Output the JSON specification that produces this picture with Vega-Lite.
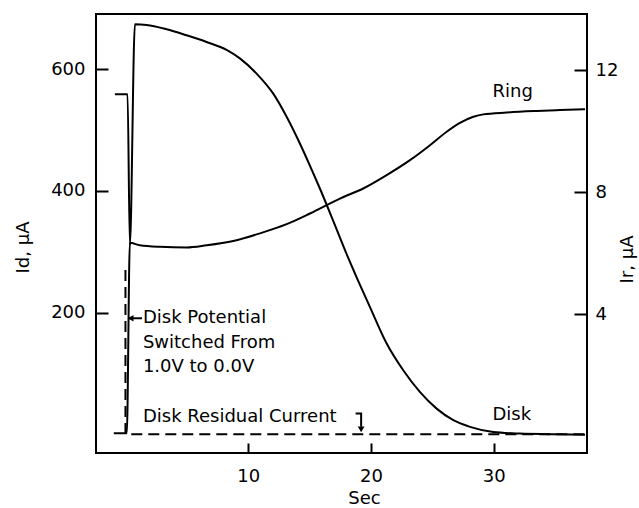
{
  "$schema": "https://vega.github.io/schema/vega-lite/v6.json",
  "width": 491,
  "height": 439,
  "autosize": "none",
  "padding": {"left": 96, "top": 14, "right": 52, "bottom": 55},
  "background": "white",
  "config": {
    "font": "DejaVu Sans",
    "view": {"stroke": "black", "strokeWidth": 2},
    "axis": {
      "domain": false, "grid": false,
      "tickColor": "black", "tickWidth": 2,
      "labelColor": "black", "labelFontSize": 18, "labelFont": "DejaVu Sans",
      "titleColor": "black", "titleFontSize": 18, "titleFont": "DejaVu Sans", "titleFontWeight": "normal"
    }
  },
  "datasets": {
    "disk": [
      {"t": -0.86, "v": 559}, {"t": 0.17, "v": 559}, {"t": 0.36, "v": 311}, {"t": 0.77, "v": 674},
      {"t": 1.72, "v": 673}, {"t": 3.35, "v": 666}, {"t": 4.98, "v": 656}, {"t": 6.61, "v": 645},
      {"t": 8.24, "v": 632}, {"t": 9.32, "v": 618}, {"t": 10.68, "v": 593}, {"t": 12.04, "v": 560},
      {"t": 13.13, "v": 522}, {"t": 14.21, "v": 478}, {"t": 15.3, "v": 429}, {"t": 15.84, "v": 404},
      {"t": 16.9, "v": 352}, {"t": 17.96, "v": 299}, {"t": 18.94, "v": 253}, {"t": 19.92, "v": 209},
      {"t": 21.28, "v": 149}, {"t": 22.63, "v": 105}, {"t": 24.0, "v": 69}, {"t": 25.35, "v": 42},
      {"t": 26.71, "v": 23}, {"t": 28.07, "v": 12}, {"t": 29.97, "v": 3.5}, {"t": 32.14, "v": 1},
      {"t": 34.86, "v": 0}, {"t": 37.44, "v": -1}
    ],
    "ring": [
      {"t": -0.95, "v": 0.11}, {"t": 0.11, "v": 0.11}, {"t": 0.36, "v": 6.35}, {"t": 1.17, "v": 6.27},
      {"t": 2.8, "v": 6.22}, {"t": 4.98, "v": 6.2}, {"t": 6.61, "v": 6.27}, {"t": 8.78, "v": 6.41},
      {"t": 10.96, "v": 6.66}, {"t": 13.13, "v": 6.96}, {"t": 15.03, "v": 7.31}, {"t": 17.47, "v": 7.8},
      {"t": 19.37, "v": 8.13}, {"t": 21.28, "v": 8.57}, {"t": 23.18, "v": 9.06}, {"t": 24.81, "v": 9.55},
      {"t": 26.17, "v": 9.99}, {"t": 27.25, "v": 10.28}, {"t": 28.34, "v": 10.48}, {"t": 29.15, "v": 10.56},
      {"t": 31.06, "v": 10.62}, {"t": 33.5, "v": 10.67}, {"t": 35.4, "v": 10.7}, {"t": 37.44, "v": 10.73}
    ],
    "residual": [
      {"i": 1, "t": 0.0, "v": 270}, {"i": 2, "t": 0.0, "v": 0}, {"i": 3, "t": 37.6, "v": 0}
    ],
    "hook": [
      {"i": 1, "t": 18.75, "v": 34}, {"i": 2, "t": 19.2, "v": 34}, {"i": 3, "t": 19.2, "v": 12}
    ],
    "pointer": [
      {"i": 1, "t": 0.3, "v": 190.6}, {"i": 2, "t": 1.35, "v": 190.6}
    ],
    "heads": [
      {"t": 0.42, "v": 190.6, "shape": "triangle-left"},
      {"t": 19.2, "v": 8, "shape": "triangle-down"}
    ],
    "labels": [
      {"t": 1.42, "v": 190.6, "text": "Disk Potential"},
      {"t": 1.42, "v": 149.5, "text": "Switched From"},
      {"t": 1.42, "v": 111, "text": "1.0V to 0.0V"},
      {"t": 1.42, "v": 28, "text": "Disk Residual Current"},
      {"t": 29.9, "v": 562, "text": "Ring"},
      {"t": 29.9, "v": 31, "text": "Disk"}
    ]
  },
  "layer": [
    {
      "layer": [
        {
          "data": {"name": "disk"},
          "mark": {"type": "line", "color": "black", "strokeWidth": 2, "interpolate": "monotone"},
          "encoding": {
            "x": {"field": "t", "type": "quantitative",
              "scale": {"domain": [-2.4, 37.6], "nice": false, "zero": false},
              "axis": {"values": [10, 20, 30], "tickSize": -10, "labelPadding": 24, "title": "Sec",
                "titleX": 268, "titleY": 45, "titleBaseline": "middle", "titleAlign": "center"}},
            "y": {"field": "v", "type": "quantitative",
              "scale": {"domain": [-31, 691], "nice": false, "zero": false},
              "axis": {"values": [200, 400, 600], "tickSize": -12, "labelPadding": 23, "title": "Id, μA",
                "titleX": -73, "titleY": 233, "titleAngle": 270, "titleBaseline": "middle", "titleAlign": "center"}}
          }
        },
        {
          "data": {"name": "residual"},
          "mark": {"type": "line", "color": "black", "strokeWidth": 2, "strokeDash": [11, 6]},
          "encoding": {
            "x": {"field": "t", "type": "quantitative"},
            "y": {"field": "v", "type": "quantitative"},
            "order": {"field": "i"}
          }
        },
        {
          "data": {"name": "hook"},
          "mark": {"type": "line", "color": "black", "strokeWidth": 2},
          "encoding": {
            "x": {"field": "t", "type": "quantitative"},
            "y": {"field": "v", "type": "quantitative"},
            "order": {"field": "i"}
          }
        },
        {
          "data": {"name": "pointer"},
          "mark": {"type": "line", "color": "black", "strokeWidth": 2},
          "encoding": {
            "x": {"field": "t", "type": "quantitative"},
            "y": {"field": "v", "type": "quantitative"},
            "order": {"field": "i"}
          }
        },
        {
          "data": {"name": "heads"},
          "mark": {"type": "point", "filled": true, "color": "black", "size": 45, "opacity": 1},
          "encoding": {
            "x": {"field": "t", "type": "quantitative"},
            "y": {"field": "v", "type": "quantitative"},
            "shape": {"field": "shape", "type": "nominal", "scale": null}
          }
        },
        {
          "data": {"name": "labels"},
          "mark": {"type": "text", "align": "left", "baseline": "middle", "fontSize": 18, "color": "black", "font": "DejaVu Sans"},
          "encoding": {
            "x": {"field": "t", "type": "quantitative"},
            "y": {"field": "v", "type": "quantitative"},
            "text": {"field": "text"}
          }
        }
      ]
    },
    {
      "data": {"name": "ring"},
      "mark": {"type": "line", "color": "black", "strokeWidth": 2, "interpolate": "monotone"},
      "encoding": {
        "x": {"field": "t", "type": "quantitative"},
        "y": {"field": "v", "type": "quantitative",
          "scale": {"domain": [-0.54, 13.85], "nice": false, "zero": false},
          "axis": {"orient": "right", "values": [4, 8, 12], "tickSize": -13, "labelPadding": 21, "title": "Ir, μA",
            "titleX": 40, "titleY": 245, "titleAngle": 270, "titleBaseline": "middle", "titleAlign": "center"}}
      }
    }
  ],
  "resolve": {"scale": {"y": "independent"}}
}
